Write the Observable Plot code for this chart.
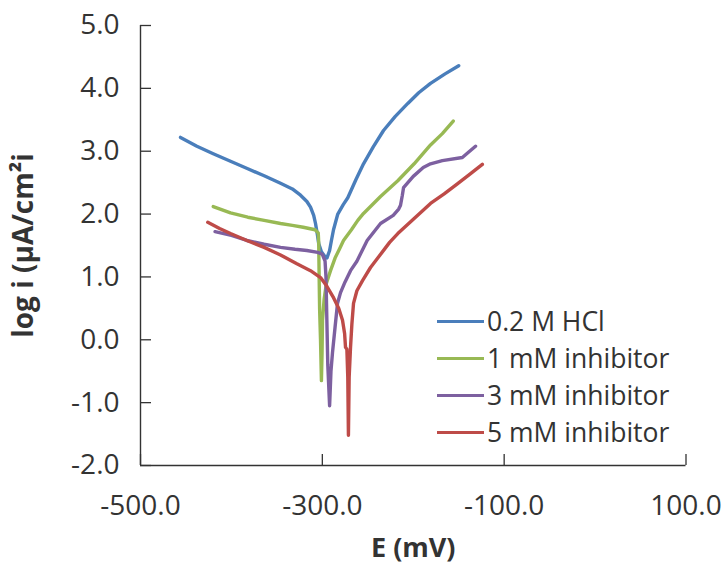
<!DOCTYPE html>
<html><head><meta charset="utf-8">
<script src="https://cdn.jsdelivr.net/npm/d3@7"></script>
<script src="https://cdn.jsdelivr.net/npm/@observablehq/plot@0.6"></script>
<style>
body{margin:0;background:#fff}
#wrap{position:relative;width:722px;height:567px;font-family:"Open Sans",sans-serif}
#legend{position:absolute;left:437px;top:303px;color:#333;font-size:26.5px;line-height:37px}
.row{display:flex;align-items:center;height:37px;white-space:nowrap}
.sw{width:47px;height:3.3px;margin-right:3px}
g[aria-label="x-axis label"] text{font-weight:bold;font-size:27px}
g[aria-label="y-axis label"] text{font-weight:bold;font-size:28px}
</style></head><body><div id="wrap"></div>
<script>
const seriesNames = ["0.2 M HCl", "1 mM inhibitor", "3 mM inhibitor", "5 mM inhibitor"];
const seriesColors = ["#4A7EBB", "#98B954", "#7D60A0", "#BE4B48"];
const xTicks = [-500, -300, -100, 100];
const yTicks = [-2, -1, 0, 1, 2, 3, 4, 5];

const hclE =    [-456,-438,-420,-401,-382,-364,-346,-333,-324,-317,-313,-309.5,-307.5,-305.5,-304,-301,-297,-295,-292,-290,-287.7,-283,-277,-272,-263,-254.7,-244,-232.7,-220,-206,-194,-181,-165,-150];
const hclLogI = [3.22,3.08,2.96,2.84,2.72,2.61,2.49,2.40,2.30,2.20,2.11,1.98,1.85,1.68,1.53,1.40,1.32,1.30,1.42,1.58,1.75,2.00,2.15,2.26,2.55,2.80,3.07,3.33,3.55,3.76,3.93,4.08,4.23,4.36];

const inh1E =    [-420,-401,-382,-364,-346,-333,-321,-308,-304.5,-304,-303.5,-303,-302,-301,-300.3,-299.8,-298,-295.5,-291,-286,-281,-276.7,-268,-261,-254.7,-236,-217,-199,-181,-168,-156];
const inh1LogI = [2.12,2.02,1.95,1.90,1.85,1.82,1.79,1.75,1.70,1.55,1.00,0.50,0.00,-0.65,-0.20,0.31,0.65,0.90,1.10,1.30,1.45,1.58,1.75,1.90,2.01,2.28,2.53,2.80,3.10,3.28,3.48];

const inh3E =    [-418,-400,-383,-364,-346,-330,-317,-305,-300,-297,-296,-295,-294,-292,-290.5,-288.8,-286,-283.3,-280,-275,-269,-262,-250.7,-236,-222,-216,-214,-212,-210.7,-200,-189,-181,-168,-146,-138,-131.5];
const inh3LogI = [1.72,1.66,1.58,1.52,1.47,1.44,1.42,1.39,1.36,1.25,1.00,0.30,-0.40,-1.05,-0.50,-0.20,0.20,0.58,0.75,0.92,1.10,1.25,1.58,1.85,1.98,2.08,2.14,2.30,2.42,2.60,2.74,2.80,2.85,2.90,3.00,3.08];

const inh5E =    [-426,-413,-401,-383,-364,-346,-328,-313,-302,-295,-287.7,-282,-277.8,-275.5,-274.5,-273,-272,-271.3,-270.5,-269,-267.5,-265.7,-262,-255.8,-247,-238,-226,-217,-199,-181,-166,-151.5,-138,-124];
const inh5LogI = [1.87,1.77,1.69,1.58,1.47,1.35,1.21,1.10,0.99,0.85,0.67,0.50,0.31,0.10,-0.12,-0.15,-0.60,-1.52,-0.60,-0.12,0.25,0.58,0.78,0.94,1.15,1.32,1.55,1.69,1.93,2.17,2.32,2.48,2.63,2.79];

const seriesE = [hclE, inh1E, inh3E, inh5E];
const seriesLogI = [hclLogI, inh1LogI, inh3LogI, inh5LogI];
const rows = [];
seriesNames.forEach((name, s) => {
  seriesE[s].forEach((e, i) => rows.push({series: name, E: e, logI: seriesLogI[s][i]}));
});

const W = 722, H = 567, mL = 140, mR = 36.5, mT = 25, mB = 102;
const plotW = W - mL - mR, plotH = H - mT - mB;
const axisColor = "#333";

const chart = Plot.plot({
  width: W, height: H,
  marginLeft: mL, marginRight: mR, marginTop: mT, marginBottom: mB,
  style: {fontFamily: "'Open Sans', sans-serif", fontSize: "28px", color: "#333", background: "#fff", overflow: "visible"},
  x: {domain: [-500, 100]},
  y: {domain: [-2, 5]},
  color: {domain: seriesNames, range: seriesColors},
  marks: [
    Plot.axisX(xTicks, {tickSize: 0, tickPadding: 30, tickFormat: d => d.toFixed(1), label: "E (mV)", labelAnchor: "center", labelArrow: "none", labelOffset: 91}),
    Plot.axisY(yTicks, {tickSize: 0, tickPadding: 21, tickFormat: d => d.toFixed(1), label: "log i (μA/cm²i", labelAnchor: "center", labelArrow: "none", labelOffset: 127}),
    Plot.tickY(yTicks, {y: d => d, insetRight: plotW - 11, stroke: axisColor, strokeWidth: 1.3}),
    Plot.tickX(xTicks, {x: d => d, insetTop: plotH - 11, stroke: axisColor, strokeWidth: 1.3}),
    Plot.ruleX([-500], {stroke: axisColor, strokeWidth: 1.4}),
    Plot.ruleY([-2], {stroke: axisColor, strokeWidth: 1.4}),
    Plot.line(rows, {x: "E", y: "logI", z: "series", stroke: "series", strokeWidth: 3.4, strokeLinejoin: "round", strokeLinecap: "round"})
  ]
});
const wrap = document.getElementById("wrap");
wrap.appendChild(chart);

const legend = document.createElement("div");
legend.id = "legend";
seriesNames.forEach((name, i) => {
  const r = document.createElement("div");
  r.className = "row";
  const sw = document.createElement("span");
  sw.className = "sw";
  sw.style.background = seriesColors[i];
  const t = document.createElement("span");
  t.textContent = name;
  r.appendChild(sw); r.appendChild(t);
  legend.appendChild(r);
});
wrap.appendChild(legend);
</script>
</body></html>
